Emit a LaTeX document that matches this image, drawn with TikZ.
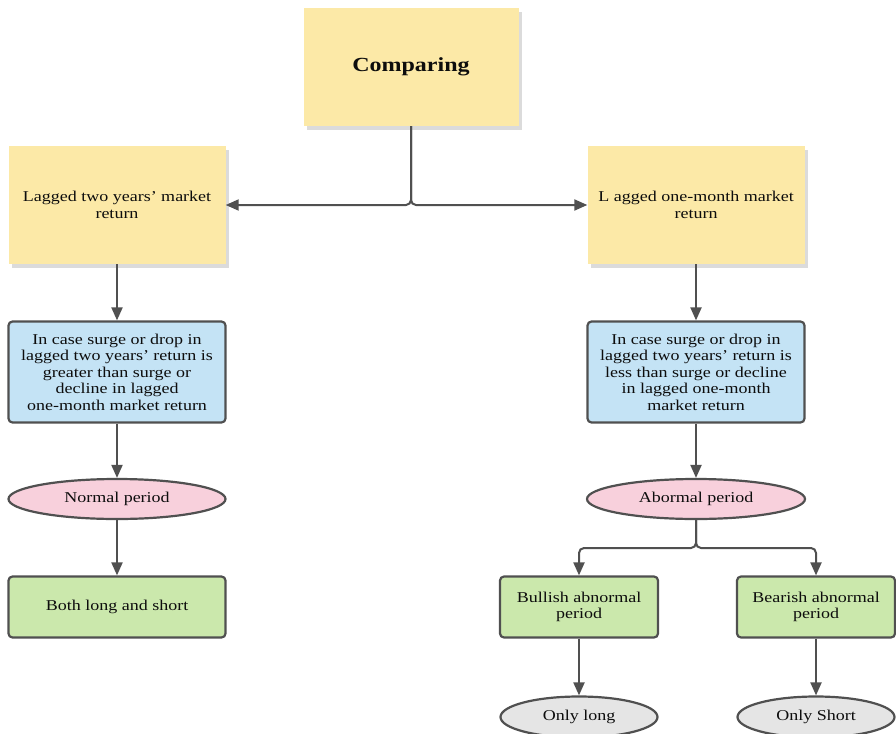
\documentclass[tikz,border=0pt]{standalone}
\usepackage{fontspec}
\setmainfont[FakeStretch=1.2]{Liberation Serif}
\usetikzlibrary{shapes.geometric,arrows.meta,shadows}
\definecolor{yel}{HTML}{FCE9A7}
\definecolor{blu}{HTML}{C4E3F5}
\definecolor{pnk}{HTML}{F8D0DC}
\definecolor{grn}{HTML}{CBE8AC}
\definecolor{gry}{HTML}{E5E5E5}
\definecolor{edge}{HTML}{505050}
\tikzset{
  txt/.style={font=\fontsize{15}{16.5}\selectfont, align=center, text=black!95},
  yelbox/.style={txt, rectangle, fill=yel, inner sep=0pt,
    drop shadow={shadow xshift=3pt, shadow yshift=-4pt, fill=black, opacity=0.14}},
  blubox/.style={txt, rectangle, rounded corners=4pt, draw=edge, line width=2.2pt, fill=blu, inner sep=0pt},
  grnbox/.style={txt, rectangle, rounded corners=4pt, draw=edge, line width=2.2pt, fill=grn, inner sep=0pt},
  pnkell/.style={txt, ellipse, draw=edge, line width=2.2pt, fill=pnk, inner sep=0pt},
  gryell/.style={txt, ellipse, draw=edge, line width=2.2pt, fill=gry, inner sep=0pt},
  arr/.style={draw=edge, line width=2pt, -{Triangle[length=13pt,width=11pt]}},
}
\begin{document}
\begin{tikzpicture}[x=1pt,y=-1pt]
\useasboundingbox (0,0) rectangle (896,733);
\fill[white] (0,0) rectangle (896,733);

\node[yelbox, minimum width=215pt, minimum height=118pt, font=\fontsize{20}{24}\selectfont\bfseries] (cmp) at (411,67) {Comparing};
\node[yelbox, minimum width=217pt, minimum height=118pt] (lag2) at (117,205) {Lagged two years’ market\\return};
\node[yelbox, minimum width=217pt, minimum height=118pt] (lag1) at (696,205) {L agged one-month market\\return};

\node[blubox, minimum width=217pt, minimum height=101pt] (gt) at (117,372) {In case surge or drop in\\lagged two years’ return is\\greater than surge or\\decline in lagged\\one-month market return};
\node[blubox, minimum width=217pt, minimum height=101pt] (lt) at (696,372) {In case surge or drop in\\lagged two years’ return is\\less than surge or decline\\in lagged one-month\\market return};

\node[pnkell, minimum width=217pt, minimum height=40pt] (norm) at (117,499) {Normal period};
\node[pnkell, minimum width=218pt, minimum height=40pt] (abn) at (696,499) {Abormal period};

\node[grnbox, minimum width=217pt, minimum height=61pt] (both) at (117,607) {Both long and short};
\node[grnbox, minimum width=158pt, minimum height=61pt] (bull) at (579,607) {Bullish abnormal\\period};
\node[grnbox, minimum width=158pt, minimum height=61pt] (bear) at (816,607) {Bearish abnormal\\period};

\node[gryell, minimum width=157pt, minimum height=41pt] (olong) at (579,717) {Only long};
\node[gryell, minimum width=157pt, minimum height=41pt] (oshort) at (816,717) {Only Short};

\coordinate (j1) at (411,205);
\coordinate (j2) at (696,548);

\draw[arr, rounded corners=5pt] (cmp.south) -- (j1) -- (lag2.east);
\draw[arr, rounded corners=5pt] (cmp.south) -- (j1) -- (lag1.west);
\draw[arr] (lag2.south) -- (gt.north);
\draw[arr] (lag1.south) -- (lt.north);
\draw[arr] (gt.south) -- (norm.north);
\draw[arr] (lt.south) -- (abn.north);
\draw[arr] (norm.south) -- (both.north);
\draw[arr, rounded corners=5pt] (abn.south) -- (j2) -| (bull.north);
\draw[arr, rounded corners=5pt] (abn.south) -- (j2) -| (bear.north);
\draw[arr] (bull.south) -- (olong.north);
\draw[arr] (bear.south) -- (oshort.north);
\end{tikzpicture}
\end{document}
